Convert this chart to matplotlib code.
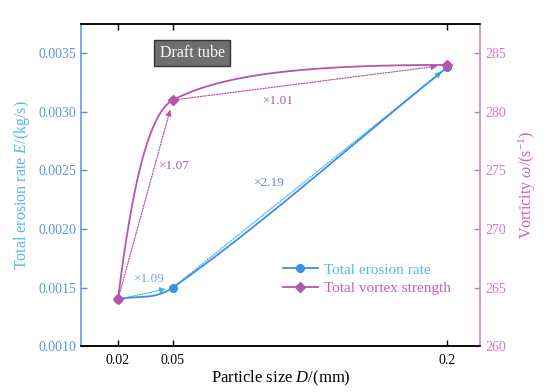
import numpy as np
import matplotlib
matplotlib.use("Agg")
import matplotlib.pyplot as plt
from matplotlib.lines import Line2D

plt.rcParams['font.family'] = ['Liberation Serif', 'DejaVu Serif']
plt.rcParams['mathtext.fontset'] = 'custom'
plt.rcParams['mathtext.rm'] = 'Liberation Serif'
plt.rcParams['mathtext.it'] = 'Liberation Serif:italic'

# data
particle_size = [0.02, 0.05, 0.2]
erosion_rate  = [0.0014, 0.0015, 0.00338]
vorticity     = [264.0, 281.0, 284.0]

x_ticks       = [0.02, 0.05, 0.2]
x_ticklabels  = ["0.02", "0.05", "0.2"]
e_ticks       = [0.0010, 0.0015, 0.0020, 0.0025, 0.0030, 0.0035]
w_ticks       = [260, 265, 270, 275, 280, 285]

ratio_erosion = ["\u00d71.09", "\u00d72.19"]
ratio_vortex  = ["\u00d71.07", "\u00d71.01"]

BLUE       = '#3c8ee6'
BLUE_AX    = '#5a96e0'
BLUE_TXT   = '#55b6ee'
BLUE_DOT   = '#3fb6e6'
PURPLE     = '#b654ae'
PURPLE_AX  = '#c879c6'
PURPLE_TXT = '#c462b6'


def pchip_slopes(t, y):
    h = np.diff(t)
    d = np.diff(y) / h
    m = np.zeros_like(y)
    for k in range(1, len(y) - 1):
        if d[k - 1] * d[k] > 0:
            w1 = 2 * h[k] + h[k - 1]
            w2 = h[k] + 2 * h[k - 1]
            m[k] = (w1 + w2) / (w1 / d[k - 1] + w2 / d[k])

    def end(h0, h1, d0, d1):
        s = ((2 * h0 + h1) * d0 - h0 * d1) / (h0 + h1)
        if np.sign(s) != np.sign(d0):
            return 0.0
        if np.sign(d0) != np.sign(d1) and abs(s) > 3 * abs(d0):
            return 3 * d0
        return s

    m[0] = end(h[0], h[1], d[0], d[1])
    m[-1] = end(h[-1], h[-2], d[-1], d[-2])
    return m


def catmull_slopes(t, y):
    d = np.diff(y) / np.diff(t)
    m = np.empty_like(y)
    m[0], m[-1] = d[0], d[-1]
    m[1:-1] = (y[2:] - y[:-2]) / (t[2:] - t[:-2])
    return m


def smooth_line(x, y, mode, n=80):
    # cubic Hermite through the points
    y = np.asarray(y, float)
    if mode == 'pchip-log':
        t = np.log10(x)
        m = pchip_slopes(t, y)
    else:
        t = np.asarray(x, float)
        m = catmull_slopes(t, y)
    xs, ys = [], []
    for k in range(len(t) - 1):
        h = t[k + 1] - t[k]
        s = np.linspace(0, 1, n)
        h00 = 2 * s**3 - 3 * s**2 + 1
        h10 = s**3 - 2 * s**2 + s
        h01 = -2 * s**3 + 3 * s**2
        h11 = s**3 - s**2
        yy = h00 * y[k] + h10 * h * m[k] + h01 * y[k + 1] + h11 * h * m[k + 1]
        tt = t[k] + s * h
        xs.append(10 ** tt if mode == 'pchip-log' else tt)
        ys.append(yy)
    return np.concatenate(xs), np.concatenate(ys)


fig = plt.figure(figsize=(5.5, 3.92), dpi=100)
ax = fig.add_axes((0.148, 0.117, 0.725, 0.822))
ax2 = ax.twinx()

# erosion rate
ex, ey = smooth_line(particle_size, erosion_rate, 'catmull')
ax.plot(ex, ey, color=BLUE, lw=1.3, zorder=3)
ax.plot(particle_size, erosion_rate, 'o', color=BLUE, ms=5.5, zorder=4)

# vortex strength
vx, vy = smooth_line(particle_size, vorticity, 'pchip-log')
ax2.plot(vx, vy, color=PURPLE, lw=1.3, zorder=3)
ax2.plot(particle_size, vorticity, 'D', color=PURPLE, ms=5.5, zorder=4)

# growth arrows
for i in range(len(particle_size) - 1):
    ax.annotate('', xy=(particle_size[i + 1], erosion_rate[i + 1]),
                xytext=(particle_size[i], erosion_rate[i]),
                arrowprops=dict(arrowstyle='-|>', ls=(0, (1, 1.2)), lw=0.9,
                                color=BLUE_DOT, shrinkA=0, shrinkB=5,
                                mutation_scale=9), zorder=2)
    ax2.annotate('', xy=(particle_size[i + 1], vorticity[i + 1]),
                 xytext=(particle_size[i], vorticity[i]),
                 arrowprops=dict(arrowstyle='-|>', ls=(0, (1, 1.2)), lw=0.9,
                                 color=PURPLE, shrinkA=0, shrinkB=7,
                                 mutation_scale=9), zorder=2)

ax.text(0.037, 0.00157, ratio_erosion[0], color='#7f9fd6', fontsize=9.5, ha='center', va='center')
ax.text(0.1025, 0.00239, ratio_erosion[1], color='#6d83c6', fontsize=9.5, ha='center', va='center')
ax2.text(0.0506, 275.4, ratio_vortex[0], color='#a3629e', fontsize=9.5, ha='center', va='center')
ax2.text(0.108, 280.9, ratio_vortex[1], color='#a3629e', fontsize=9.5, ha='center', va='center')

# draft tube tag
ax.text(0.0605, 0.003505, "Draft tube", color='white', fontsize=11.5, ha='center', va='center',
        bbox=dict(boxstyle='square,pad=0.32', fc='#6e6e6e', ec='#333333', lw=1))

# axes
ax.set_xlim(0, 0.218)
ax.set_ylim(0.0010, 0.00375)
ax2.set_ylim(260, 287.5)
ax.set_xticks(x_ticks)
ax.set_xticklabels(x_ticklabels)
ax.set_yticks(e_ticks)
ax.set_yticklabels(["%.4f" % v for v in e_ticks])
ax2.set_yticks(w_ticks)

ax.tick_params(axis='x', direction='in', top=True, length=4, width=1, colors='black', labelsize=10, pad=6)
ax.tick_params(axis='y', direction='in', length=4, width=1, color=BLUE_AX, labelcolor=BLUE_AX, labelsize=10)
ax2.tick_params(axis='y', direction='in', length=4, width=1, color=PURPLE_AX, labelcolor='#d07ec4', labelsize=10)

ax.spines['left'].set_color(BLUE_AX)
ax.spines['right'].set_visible(False)
ax2.spines['left'].set_visible(False)
ax2.spines['right'].set_color(PURPLE_AX)
for a in (ax, ax2):
    for s in a.spines.values():
        s.set_linewidth(1.1)

ax.set_xlabel("Particle size $\\mathit{D}$/(mm)", fontsize=12, labelpad=1)
ax.set_ylabel("Total erosion rate $\\mathit{E}$/(kg/s)", fontsize=11.5, color=BLUE_TXT, labelpad=5)
ax2.set_ylabel("Vorticity $\\mathit{\\omega}$/(s$^{-1}$)", fontsize=11.5, color=PURPLE_TXT, labelpad=8)

handles = [Line2D([], [], color=BLUE, lw=1.3, marker='o', ms=5.5),
           Line2D([], [], color=PURPLE, lw=1.3, marker='D', ms=5.5)]
leg = ax2.legend(handles, ["Total erosion rate", "Total vortex strength"],
                 loc='upper left', bbox_to_anchor=(0.49, 0.277), frameon=False,
                 fontsize=11, handlelength=2.3, handletextpad=0.4, labelspacing=0.3,
                 borderaxespad=0)
leg.get_texts()[0].set_color(BLUE_TXT)
leg.get_texts()[1].set_color(PURPLE_TXT)

fig.savefig("out.png", dpi=100)
